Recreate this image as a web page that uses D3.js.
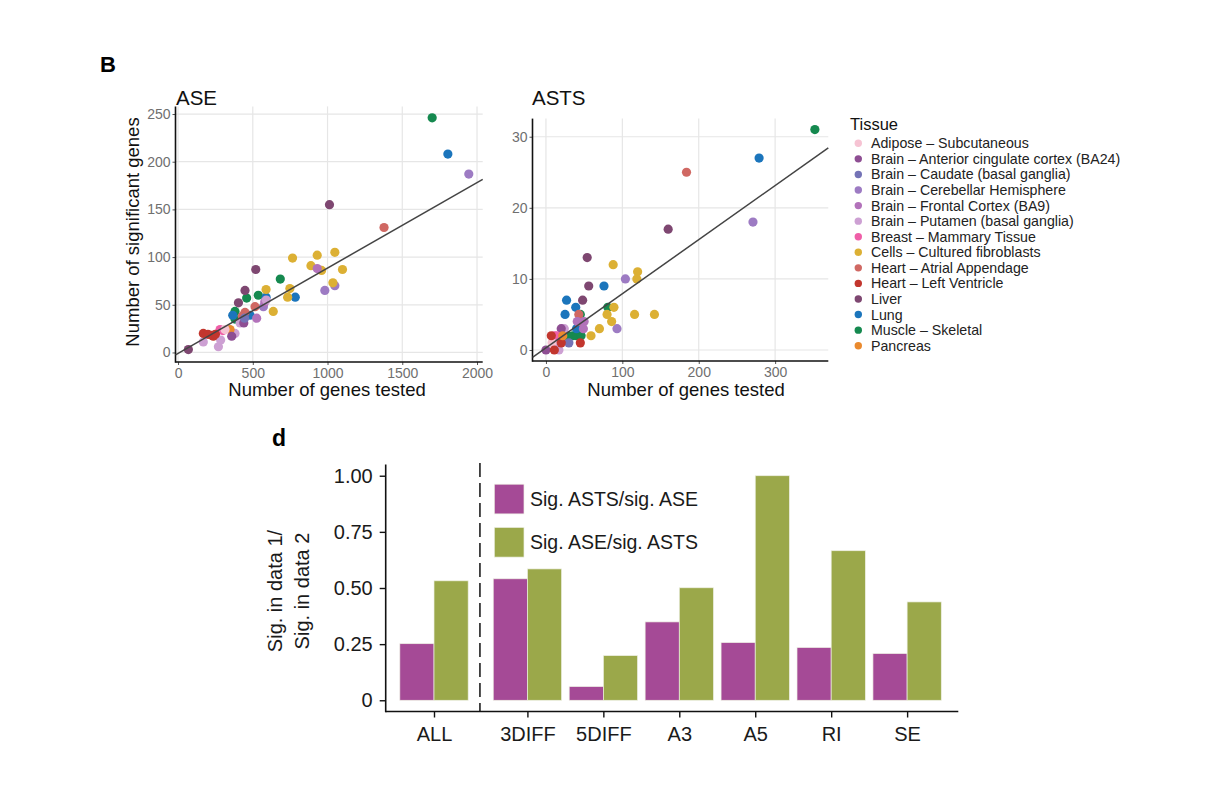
<!DOCTYPE html>
<html>
<head>
<meta charset="utf-8">
<script src="https://cdn.jsdelivr.net/npm/d3@7"></script>
<style>
  html, body { margin: 0; padding: 0; background: #fff; }
  svg { display: block; font-family: "Liberation Sans", Arial, Helvetica, sans-serif; }
</style>
</head>
<body>
<svg id="fig" width="1208" height="808"></svg>
<script>
// ---------------- DATA ----------------
const tissues = [
  "Adipose – Subcutaneous",
  "Brain – Anterior cingulate cortex (BA24)",
  "Brain – Caudate (basal ganglia)",
  "Brain – Cerebellar Hemisphere",
  "Brain – Frontal Cortex (BA9)",
  "Brain – Putamen (basal ganglia)",
  "Breast – Mammary Tissue",
  "Cells – Cultured fibroblasts",
  "Heart – Atrial Appendage",
  "Heart – Left Ventricle",
  "Liver",
  "Lung",
  "Muscle – Skeletal",
  "Pancreas"
];
const tissueColors = [
  "#F6C3D3", "#8E4E93", "#7473B6", "#9D7BC3", "#B272BA", "#CDA0D3", "#EF5FA8",
  "#DCB034", "#D06863", "#C2362E", "#7E4771", "#1B75BC", "#15894F", "#EA8A2E"
];

// ASE panel: tissue index, genes tested, significant genes
const aseTissue = [12,12,12,12,12,12, 11,11,11,11,11, 3,3,3,3, 10,10,10,10,10, 8,8,8,8,
  7,7,7,7,7,7,7,7,7,7,7, 4,4,4,4, 5,5,5,5,5,5, 6,6, 13, 9,9,9,9,9, 1,1, 2, 0];
const aseX = [1700,684,459,537,381,381, 1805,784,589,366,482, 1945,1049,982,571, 1013,520,448,404,69,
  1378,515,448,430, 766,931,1049,889,960,1100,1036,748,733,589,637, 931,580,526,426,
  169,270,381,285,415,590, 281,300, 348, 169,225,236,200,250, 359,440, 445, 314];
const aseY = [246,77,57,60,43,35, 208,58,58,39,39, 187,70,65,48, 155,87,65,52,3,
  131,48,42,38, 99,102,105,91,86,87,73,67,58,66,43, 88,53,36,32,
  11,6,20,13,31,55, 24,23, 24, 20,18,17,19,19, 17,31, 36, 24];

// ASTS panel
const astsTissue = [12,12,12,12,12,12,12, 11,11,11,11,11,11, 8,8,8, 3,3,3, 10,10,10,10,
  7,7,7,7,7,7,7,7,7,7, 4,4,4, 5,5,5, 1,1, 2, 6,6, 0, 9,9,9,9, 13];
const astsX = [352,81,45,28,35,40,46, 279,76,27,39,25,40, 184,43,46, 271,104,93, 160,54,56,48,
  88,120,119,89,80,116,142,86,70,59, 50,49,41, 17,24,14, 0,20, 30, 11,14, 8, 7,20,45,11, 22];
const astsY = [31,6,5,2,2,2,2, 27,9,7,6,5,3, 25,5,4, 18,10,3, 17,13,9,7,
  12,11,10,6,5,5,5,4,3,2, 4,3,4, 0,3,1, 0,3, 1, 2,2, 1, 2,1,1,0, 2];

// linear fits (intercept, slope) shown in each panel
const aseFit = [-1.0, 0.0895];
const astsFit = [0.3, 0.0761];

// tick values
const aseXTicks = [0, 500, 1000, 1500, 2000];
const aseYTicks = [0, 50, 100, 150, 200, 250];
const astsXTicks = [0, 100, 200, 300];
const astsYTicks = [0, 10, 20, 30];

// Bar chart (panel d)
const barCategories = ["ALL", "3DIFF", "5DIFF", "A3", "A5", "RI", "SE"];
const sigAstsOverAse = [0.252, 0.541, 0.061, 0.349, 0.257, 0.235, 0.208];
const sigAseOverAsts = [0.532, 0.585, 0.199, 0.501, 1.0, 0.666, 0.438];
const barSeriesNames = ["Sig. ASTS/sig. ASE", "Sig. ASE/sig. ASTS"];
const barSeriesColors = ["#A54A96", "#9BA84A"];
const barYTicks = [0, 0.25, 0.5, 0.75, 1.0];
const barYTickLabels = ["0", "0.25", "0.50", "0.75", "1.00"];

// ---------------- DRAW ----------------
const svg = d3.select("#fig");
svg.append("rect").attr("width", 1208).attr("height", 808).attr("fill", "#fff");

function scatterPanel(opt) {
  const g = svg.append("g");
  const x = d3.scaleLinear().domain(opt.xDomain).range(opt.xRange);
  const y = d3.scaleLinear().domain(opt.yDomain).range(opt.yRange);
  const [x0, x1] = opt.xRange, [y0, y1] = opt.yRange;

  // gridlines
  g.append("g").selectAll("line").data(opt.xTicks).join("line")
    .attr("x1", d => x(d)).attr("x2", d => x(d)).attr("y1", y1).attr("y2", y0)
    .attr("stroke", "#E6E6E6").attr("stroke-width", 1.2);
  g.append("g").selectAll("line").data(opt.yTicks).join("line")
    .attr("y1", d => y(d)).attr("y2", d => y(d)).attr("x1", x0).attr("x2", x1)
    .attr("stroke", "#E6E6E6").attr("stroke-width", 1.2);

  // axes
  const xa = g.append("g").attr("transform", `translate(0,${y0})`)
    .call(d3.axisBottom(x).tickValues(opt.xTicks).tickSize(3).tickPadding(3).tickFormat(d3.format("d")));
  const ya = g.append("g").attr("transform", `translate(${x0},0)`)
    .call(d3.axisLeft(y).tickValues(opt.yTicks).tickSize(3).tickPadding(2).tickFormat(d3.format("d")));
  [xa, ya].forEach(a => {
    a.select(".domain").remove();
    a.selectAll(".tick line").attr("stroke", "#555");
    a.selectAll(".tick text").attr("fill", "#6f6f6f").style("font-size", "14px")
      .style("font-family", '"Liberation Sans", Arial, sans-serif');
  });
  g.append("line").attr("x1", x0).attr("x2", x0).attr("y1", y1).attr("y2", y0 + 0.8)
    .attr("stroke", "#111").attr("stroke-width", 1.6);
  g.append("line").attr("x1", x0).attr("x2", x1).attr("y1", y0).attr("y2", y0)
    .attr("stroke", "#111").attr("stroke-width", 1.6);

  // points
  g.append("g").selectAll("circle").data(opt.tissue.map((t, i) => ({t, x: opt.xs[i], y: opt.ys[i]})))
    .join("circle")
    .attr("cx", d => x(d.x)).attr("cy", d => y(d.y)).attr("r", 4.6)
    .attr("fill", d => tissueColors[d.t]);

  // fit line across the panel
  const fx0 = opt.xDomain[0], fx1 = opt.xDomain[1];
  g.append("line")
    .attr("x1", x(fx0)).attr("y1", y(opt.fit[0] + opt.fit[1] * fx0))
    .attr("x2", x(fx1)).attr("y2", y(opt.fit[0] + opt.fit[1] * fx1))
    .attr("stroke", "#444").attr("stroke-width", 1.5);

  // titles
  g.append("text").attr("x", opt.titleX).attr("y", 105).text(opt.title)
    .style("font-size", "20.5px").attr("fill", "#111");
  g.append("text").attr("x", opt.xTitleX).attr("y", 396).attr("text-anchor", "middle")
    .text("Number of genes tested").style("font-size", "18.5px").attr("fill", "#111");
  return {x, y};
}

scatterPanel({
  xDomain: [-17, 2038], xRange: [175.5, 482.7],
  yDomain: [-10, 258], yRange: [362, 106.4],
  xTicks: aseXTicks, yTicks: aseYTicks,
  tissue: aseTissue, xs: aseX, ys: aseY, fit: aseFit,
  title: "ASE", titleX: 176, xTitleX: 327
});
scatterPanel({
  xDomain: [-17.6, 369.6], xRange: [532.5, 828.3],
  yDomain: [-1.55, 32.55], yRange: [361, 118.6],
  xTicks: astsXTicks, yTicks: astsYTicks,
  tissue: astsTissue, xs: astsX, ys: astsY, fit: astsFit,
  title: "ASTS", titleX: 532, xTitleX: 686
});

// y title of scatter
svg.append("text").attr("transform", "translate(139,232) rotate(-90)")
  .attr("text-anchor", "middle").text("Number of significant genes")
  .style("font-size", "18.5px").attr("fill", "#111");

// panel letter B
svg.append("text").attr("x", 100).attr("y", 72).text("B")
  .style("font-size", "22px").style("font-weight", "bold").attr("fill", "#000");

// Tissue legend
const lg = svg.append("g");
lg.append("text").attr("x", 850).attr("y", 130).text("Tissue").style("font-size", "16.5px").attr("fill", "#111");
const legY = d3.scalePoint().domain(tissues).range([143.3, 345.7]);
const items = lg.selectAll("g.item").data(tissues).join("g").attr("class", "item")
  .attr("transform", d => `translate(0,${legY(d)})`);
items.append("circle").attr("cx", 858.3).attr("cy", 0).attr("r", 3.7)
  .attr("fill", (d, i) => tissueColors[i]);
items.append("text").attr("x", 871).attr("y", 5).text(d => d)
  .style("font-size", "14.2px").attr("fill", "#222");

// ---------------- BAR CHART ----------------
const gapAfterAll = 0.23; // extra spacing between ALL and the event types
const barPos = barCategories.map((c, i) => i === 0 ? 0 : i + gapAfterAll);
const bx = d3.scaleLinear().domain([-0.636, 6.904]).range([385.7, 958.3]);
const by = d3.scaleLinear().domain([-0.05, 1.05]).range([711.5, 464.5]);
const bw = 0.45;
const bg = svg.append("g");

const barData = [];
barCategories.forEach((c, i) => {
  barData.push({s: 0, pos: barPos[i], v: sigAstsOverAse[i]});
  barData.push({s: 1, pos: barPos[i], v: sigAseOverAsts[i]});
});
bg.selectAll("rect.bar").data(barData).join("rect").attr("class", "bar")
  .attr("x", d => bx(d.pos + (d.s === 0 ? -bw : 0)))
  .attr("width", d => bx(d.pos + bw) - bx(d.pos))
  .attr("y", d => by(d.v))
  .attr("height", d => by(0) - by(d.v))
  .attr("fill", d => barSeriesColors[d.s])
  .attr("stroke", "#eef0e4").attr("stroke-width", 0.7);

// axes
const byAxis = bg.append("g").attr("transform", "translate(385.7,0)")
  .call(d3.axisLeft(by).tickValues(barYTicks).tickSize(6).tickPadding(7)
    .tickFormat((d, i) => barYTickLabels[i]));
const bxAxis = bg.append("g").attr("transform", "translate(0,711.5)")
  .call(d3.axisBottom(bx).tickValues(barPos).tickSize(6).tickPadding(9)
    .tickFormat((d, i) => barCategories[i]));
[byAxis, bxAxis].forEach(a => {
  a.select(".domain").remove();
  a.selectAll(".tick line").attr("stroke", "#111").attr("stroke-width", 1.4);
  a.selectAll(".tick text").attr("fill", "#1a1a1a").style("font-size", "20px")
    .style("font-family", '"Liberation Sans", Arial, sans-serif');
});
bg.append("line").attr("x1", 385.7).attr("x2", 385.7).attr("y1", 464.5).attr("y2", 712.3)
  .attr("stroke", "#111").attr("stroke-width", 1.6);
bg.append("line").attr("x1", 385.7).attr("x2", 958.3).attr("y1", 711.5).attr("y2", 711.5)
  .attr("stroke", "#111").attr("stroke-width", 1.6);

// dashed separator
const sepPos = (barPos[0] + barPos[1]) / 2 - 0.01;
bg.append("line").attr("x1", bx(sepPos)).attr("x2", bx(sepPos)).attr("y1", 463).attr("y2", 711.5)
  .attr("stroke", "#111").attr("stroke-width", 1.5).attr("stroke-dasharray", "14,6");

// y title (two lines)
const yt = bg.append("text").attr("transform", "translate(282,591) rotate(-90)")
  .attr("text-anchor", "middle").style("font-size", "20px").attr("fill", "#1a1a1a");
yt.append("tspan").attr("x", 0).attr("y", 0).text("Sig. in data 1/");
yt.append("tspan").attr("x", 0).attr("y", 26.5).text("Sig. in data 2");

// legend
const bl = bg.append("g");
barSeriesNames.forEach((n, i) => {
  const cy = 499 + i * 43.2;
  bl.append("rect").attr("x", 494.3).attr("y", cy - 14.8).attr("width", 29.7).attr("height", 29.7)
    .attr("fill", barSeriesColors[i]).attr("stroke", "#eef0e4").attr("stroke-width", 0.7);
  bl.append("text").attr("x", 530).attr("y", cy + 7).text(n)
    .style("font-size", "19.5px").attr("fill", "#1a1a1a");
});

// panel letter d
svg.append("text").attr("x", 272).attr("y", 446).text("d")
  .style("font-size", "23px").style("font-weight", "bold").attr("fill", "#000");
</script>
</body>
</html>
